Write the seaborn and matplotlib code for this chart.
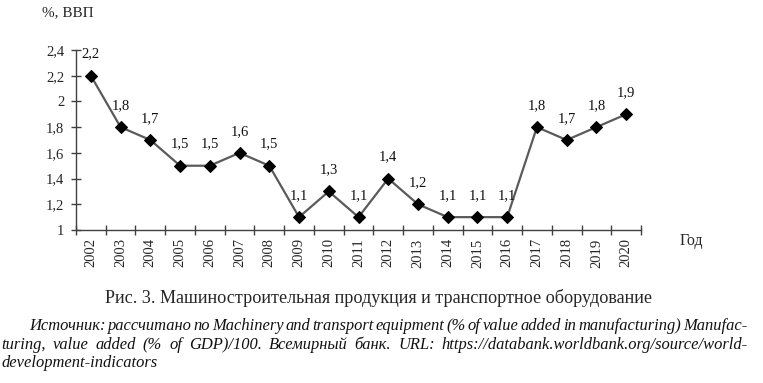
import numpy as np
import pandas as pd
import matplotlib
matplotlib.use("Agg")
import matplotlib.pyplot as plt
import seaborn as sns

years = [str(y) for y in range(2002, 2021)]
values = [2.2, 1.8, 1.7, 1.5, 1.5, 1.6, 1.5, 1.1, 1.3, 1.1, 1.4, 1.2, 1.1, 1.1, 1.1, 1.8, 1.7, 1.8, 1.9]
y_ticks = [1.0, 1.2, 1.4, 1.6, 1.8, 2.0, 2.2, 2.4]
y_tick_labels = ["1", "1,2", "1,4", "1,6", "1,8", "2", "2,2", "2,4"]
y_title = "%, ВВП"
x_title = "Год"
caption = "Рис. 3. Машиностроительная продукция и транспортное оборудование"
source_lines = [
    "Источник: рассчитано по Machinery and transport equipment (% of value added in manufacturing) Manufac-",
    "turing, value added (% of GDP)/100. Всемирный банк. URL: https://databank.worldbank.org/source/world-",
    "development-indicators",
]

sns.set_theme(style="white")
plt.rcParams["font.family"] = ["Liberation Serif", "DejaVu Serif"]

W, H = 763, 383
fig = plt.figure(figsize=(W / 100, H / 100), dpi=100)
fig.patch.set_facecolor("white")
ax = fig.add_axes([76 / W, 1 - 230 / H, (641 - 76) / W, (230 - 50) / H])

df = pd.DataFrame({"year": years, "value": values})
df["pos"] = np.arange(len(df))
sns.lineplot(data=df, x="pos", y="value", ax=ax, color="#5a5a5a", linewidth=1.6,
             marker="D", markersize=6.3, markerfacecolor="black", markeredgecolor="black")

ax.set_xlim(-0.5, len(years) - 0.5)
ax.set_ylim(1.0, 2.4)
ax.set_xlabel("")
ax.set_ylabel("")

# category boundaries as major ticks, labels at centres as minor ticks
ax.set_xticks(np.arange(-0.5, len(years), 1.0))
ax.set_xticklabels([])
ax.set_xticks(np.arange(len(years)), minor=True)
ax.set_xticklabels(years, minor=True, rotation=90, fontsize=10.5)
ax.tick_params(axis="x", which="major", direction="inout", length=7, width=1, color="#404040", bottom=True)
ax.tick_params(axis="x", which="minor", length=0, pad=6, bottom=True)

ax.set_yticks(y_ticks)
ax.set_yticklabels(y_tick_labels, fontsize=10.5)
ax.tick_params(axis="y", direction="inout", length=7, width=1, color="#404040", left=True, pad=5)

for s in ["top", "right"]:
    ax.spines[s].set_visible(False)
for s in ["left", "bottom"]:
    ax.spines[s].set_color("#404040")
    ax.spines[s].set_linewidth(1.0)
ax.grid(False)
ax.set_facecolor("white")

for p, v in zip(df["pos"], df["value"]):
    ax.annotate(f"{v:.1f}".replace(".", ","), (p, v), xytext=(0, 15.5), textcoords="offset points",
                ha="center", va="center", fontsize=10.5, color="#111111")

fig.text(42 / W, 1 - 13 / H, y_title, ha="left", va="center", fontsize=11)
fig.text(680 / W, 1 - 241 / H, x_title, ha="left", va="center", fontsize=11.5)

fig.canvas.draw()
renderer = fig.canvas.get_renderer()

def text_width(t):
    return t.get_window_extent(renderer).width

# caption, fitted to its width
cap = fig.text(378.5 / W, 1 - 298 / H, caption, ha="center", va="center", fontsize=12)
w = text_width(cap)
cap.set_fontsize(12 * (652 - 105) / w)

# source: italic, justified
probe = fig.text(0, 0, source_lines[2], fontsize=11, style="italic")
fs = 11 * 155 / text_width(probe)
probe.remove()

line_specs = [(29, 747, 326, True), (1, 748, 345, True), (1, None, 363, False)]
for line, (x0, x1, yc, justify) in zip(source_lines, line_specs):
    if not justify:
        fig.text(x0 / W, 1 - yc / H, line, ha="left", va="center", fontsize=fs, style="italic", color="#111111")
        continue
    words = line.split(" ")
    objs = [fig.text(0, 1 - yc / H, wd, ha="left", va="center", fontsize=fs, style="italic", color="#111111")
            for wd in words]
    widths = [text_width(o) for o in objs]
    gap = ((x1 - x0) - sum(widths)) / (len(words) - 1)
    x = x0
    for o, wdt in zip(objs, widths):
        o.set_x(x / W)
        x += wdt + gap

fig.savefig("out.png", dpi=100, facecolor="white")
